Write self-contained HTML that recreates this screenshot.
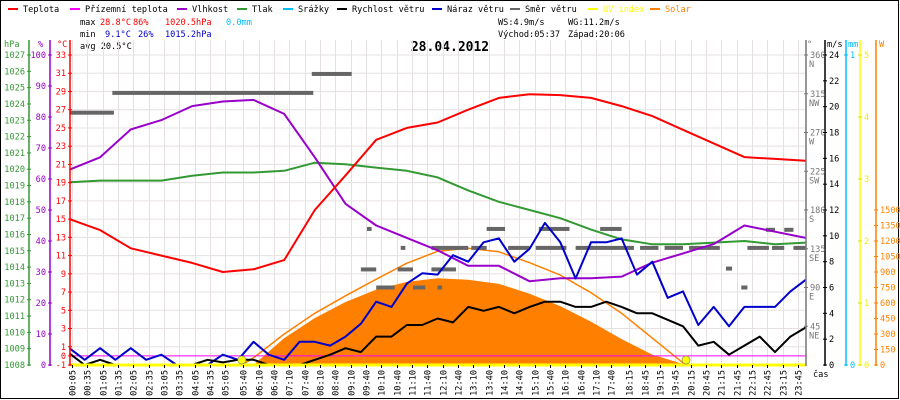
<!DOCTYPE html>
<html><head><meta charset="utf-8"><style>
html,body{margin:0;padding:0;background:#fff}
svg{display:block}
text{font-family:"DejaVu Sans Mono","Liberation Mono",monospace;font-size:8.6px}
</style></head><body>
<svg id="chart" width="900" height="400" viewBox="0 0 900 400" xmlns="http://www.w3.org/2000/svg">
<rect x="0.5" y="0.5" width="898" height="398" fill="#fff" stroke="#000"/>
<g id="legend"></g>
<g>
<text x="80" y="25">max</text><text x="100" y="25" fill="#f00">28.8°C</text><text x="133" y="25" fill="#f00">86%</text><text x="165" y="25" fill="#f00">1020.5hPa</text><text x="226" y="25" fill="#00bfff">0.0mm</text>
<text x="80" y="37">min</text><text x="105" y="37" fill="#00c">9.1°C</text><text x="138" y="37" fill="#00c">26%</text><text x="165" y="37" fill="#00c">1015.2hPa</text>
<text x="80" y="49">avg 20.5°C</text>
<text x="498" y="25">WS:4.9m/s</text><text x="568" y="25">WG:11.2m/s</text>
<text x="498" y="37">Východ:05:37</text><text x="568" y="37">Západ:20:06</text>
</g>
<text x="450" y="51" text-anchor="middle" style="font-size:13px;font-weight:bold">28.04.2012</text>
<g id="grid"></g>
<g id="marks"></g>
<g id="axes"></g>
</svg>
<script>
// ---- data ----
const hours = [0,1,2,3,4,5,6,7,8,9,10,11,12,13,14,15,16,17,18,19,20,21,22,23,24];
const temperature = [15,13.8,11.8,11,10.2,9.2,9.5,10.5,16,19.8,23.7,25,25.6,27,28.3,28.7,28.6,28.3,27.4,26.3,24.8,23.3,21.8,21.6,21.4];
const humidity = [63,67,76,79,83.5,85,85.5,81,67,52,45,41,37,32,32,27,28,28,28.5,33,36,39,45,43,41];
const pressure = [1019.2,1019.3,1019.3,1019.3,1019.6,1019.8,1019.8,1019.9,1020.4,1020.3,1020.1,1019.9,1019.5,1018.7,1018.0,1017.5,1017.0,1016.3,1015.7,1015.4,1015.4,1015.5,1015.6,1015.4,1015.5];
const solar = [0,0,0,0,0,0,0,260,455,610,730,805,840,825,785,690,570,420,250,100,10,0,0,0,0];
const clearTimes = [5.62,6,7,8,9,10,11,12,13,14,15,16,17,18,19,20,20.1];
const clearSolar = [0,70,300,500,670,830,985,1100,1130,1095,990,870,700,500,260,20,0];
const halfHours = [0,0.5,1,1.5,2,2.5,3,3.5,4,4.5,5,5.5,6,6.5,7,7.5,8,8.5,9,9.5,10,10.5,11,11.5,12,12.5,13,13.5,14,14.5,15,15.5,16,16.5,17,17.5,18,18.5,19,19.5,20,20.5,21,21.5,22,22.5,23,23.5,24];
const windSpeed = [0.9,0,0.4,0,0,0,0,0,0,0.4,0.2,0.4,0.4,0,0,0,0.4,0.8,1.3,1,2.2,2.2,3.1,3.1,3.6,3.3,4.5,4.2,4.5,4,4.5,4.9,4.9,4.5,4.5,4.9,4.5,4,4,3.5,3,1.5,1.8,0.8,1.5,2.2,1,2.2,2.9];
const windGust = [1.3,0.4,1.3,0.4,1.3,0.4,0.8,0,0,0,0.8,0.4,1.8,0.8,0.4,1.8,1.8,1.5,2.2,3.2,4.9,4.5,6.3,7.1,7,8.5,8,9.5,9.8,8,9,11,9.5,6.7,9.5,9.5,9.8,7,8,5.2,5.7,3.1,4.5,3,4.5,4.5,4.5,5.7,6.6];
const dirStart = [0,1.4,7.9,9.5,9.7,10,10.7,10.8,11.2,11.8,11.8,12,13.6,13.1,14.3,15.3,15.2,17.3,16.5,18.6,19.4,20.2,21.4,21.9,22.1,22.7,22.9,23.3,23.6];
const dirEnd   = [1.45,7.95,9.2,10.0,9.85,10.6,11.2,10.95,11.6,12.6,13,12.15,14.2,13.6,15,16.3,16.2,18,18.4,19.2,20.0,21.2,21.6,22.1,22.8,23,23.3,23.6,24];
const dirValue = [293,316,338,111,158,90,111,136,90,111,136,90,158,136,136,158,136,158,136,136,136,136,112,90,136,157,136,157,136];
const sunTimes = [5.62,20.1];
const timeLabels = ["00:05","00:35","01:05","01:35","02:05","02:35","03:05","03:35","04:05","04:35","05:05","05:40","06:10","06:40","07:10","07:40","08:10","08:40","09:10","09:40","10:10","10:40","11:10","11:40","12:10","12:40","13:10","13:40","14:10","14:40","15:10","15:40","16:10","16:40","17:10","17:40","18:15","18:45","19:15","19:45","20:15","20:45","21:15","21:45","22:15","22:45","23:15","23:45"];
const tempTicks = [33,31,29,27,25,23,21,19,17,15,13,11,9,7,5,3,1,0,-1];
const humTicks = [100,90,80,70,60,50,40,30,20,10,0];
const hpaTicks = [1027,1026,1025,1024,1023,1022,1021,1020,1019,1018,1017,1016,1015,1014,1013,1012,1011,1010,1009,1008];
const dirTicks = [360,315,270,225,180,135,90,45];
const dirNames = ["N","NW","W","SW","S","SE","E","NE"];
const msTicks = [24,22,20,18,16,14,12,10,8,6,4,2,0];
const uvTicks = [5,4,3,2,1,0];
const wTicks = [1500,1350,1200,1050,900,750,600,450,300,150,0];

// ---- scales ----
const X0=69.4, XS=30.68, YT=55, YB=365;
const x = t => X0 + XS*t;
const yTemp = v => YT + (33 - v)*(YB-YT)/34;
const yHum = v => YB - v*(YB-YT)/100;
const yHpa = v => YB - (v-1008)*(YB-YT)/19;
const yMs = v => YB - v*(YB-YT)/24;
const yW = v => YB - v*(YB-YT)/3000;
const yDir = v => YB - v*(YB-YT)/360;
const yUv = v => YB - v*(YB-YT)/5;
const NS="http://www.w3.org/2000/svg";
function mk(tag, attrs, parent){const e=document.createElementNS(NS,tag);for(const k in attrs)e.setAttribute(k,attrs[k]);parent.appendChild(e);return e;}
const grid=document.getElementById('grid'), marks=document.getElementById('marks'), axes=document.getElementById('axes'), legend=document.getElementById('legend');

// legend
const legItems=[["Teplota","#f00",8],["Přízemní teplota","#f0f",70],["Vlhkost","#90c",177],["Tlak","#393",237],["Srážky","#00bfff",283],["Rychlost větru","#000",337],["Náraz větru","#00c",432],["Směr větru","#666",510],["UV index","#ff0",588],["Solar","#ff8000",650]];
legItems.forEach(it=>{
  const g=mk('g',{},legend);
  
  
  mk('rect',{x:it[2],y:8,width:10,height:2,fill:it[1]},g);
  const t=mk('text',{x:it[2]+15,y:12,fill:(it[0]==="UV index"||it[0]==="Solar")?it[1]:"#000"},g);
  t.textContent=it[0];
});

// grid
tempTicks.filter(v=>v>=1&&v%2===1).forEach(v=>{
  const l=mk('line',{x1:70,x2:806,y1:yTemp(v),y2:yTemp(v),stroke:"#e6e0e0","stroke-width":1},grid);
  
  
});
timeLabels.forEach(s=>{
  const p=s.split(':'), t=+p[0]+ +p[1]/60, xx=Math.round(x(t))+0.5;
  const l=mk('line',{x1:xx,x2:xx,y1:40,y2:365,stroke:"#e6e0e0","stroke-width":1},grid);
  
  
  mk('line',{x1:xx,x2:xx,y1:365,y2:368,stroke:"#000"},axes);
  const tx=mk('text',{x:0,y:0,transform:`translate(${xx+3},370) rotate(-90)`,"text-anchor":"end"},axes);
  tx.textContent=s;
  
  
});

// solar area
let pts=[[x(hours[0]),YB]];
hours.forEach((h,i)=>pts.push([x(h),yW(solar[i])]));
pts.push([x(24),YB]);
const sa=mk('polygon',{points:pts.map(p=>p.join(',')).join(' '),fill:"#ff8000"},marks);


function line(xs,ys,fy,color,w,name){
  const d=xs.map((t,i)=>(i?'L':'M')+x(t).toFixed(1)+','+fy(ys[i]).toFixed(1)).join('');
  const p=mk('path',{d:d,fill:"none",stroke:color,"stroke-width":w,"stroke-linejoin":"round"},marks);
  
  
}
line(clearTimes,clearSolar,yW,"#ff8000",1.5,'solar-clear-sky-line');
const gl=mk('line',{x1:70,x2:806,y1:yTemp(0),y2:yTemp(0),stroke:"#f0f","stroke-width":1},marks);


dirStart.forEach((s,i)=>{
  const r=mk('rect',{x:x(s),y:yDir(dirValue[i])-2,width:Math.max(4,x(dirEnd[i])-x(s)),height:4,fill:"#666"},marks);
  
  
});
line(hours,pressure,yHpa,"#393",2,'pressure-line');
line(hours,humidity,yHum,"#90c",2,'humidity-line');
line(hours,temperature,yTemp,"#f00",2,'temperature-line');
line(halfHours,windGust,yMs,"#00c",2,'wind-gust-line');
line(halfHours,windSpeed,yMs,"#000",2,'wind-speed-line');
const uv=mk('line',{x1:70,x2:806,y1:YB,y2:YB,stroke:"#ff0","stroke-width":3},marks);


sunTimes.forEach(t=>{
  const c=mk('circle',{cx:x(t),cy:YB-5,r:4,fill:"#ff0",stroke:"#886",'stroke-width':0.7},marks);
  
  
});

// axes
function vaxis(ax,color,name){const l=mk('line',{x1:ax,x2:ax,y1:40,y2:366,stroke:color,"stroke-width":1.5},axes);}
function tick(ax,y,label,color,side,tc){
  mk('line',{x1:ax-2,x2:ax+2,y1:y,y2:y,stroke:color},axes);
  const t=mk('text',{x:side<0?ax-4:ax+4,y:y+3,fill:tc||color,"text-anchor":side<0?"end":"start"},axes);
  t.textContent=label;
}
vaxis(29,"#393",'pressure-axis'); vaxis(50,"#90c",'humidity-axis'); vaxis(70,"#f00",'temperature-axis');
hpaTicks.forEach(v=>tick(29,yHpa(v),v,"#393",-1));
humTicks.forEach(v=>tick(50,yHum(v),v,"#90c",-1));
tempTicks.forEach(v=>tick(70,yTemp(v),v,"#f00",-1));
[["hPa",4,"#393"],["%",38,"#90c"],["°C",57,"#f00"]].forEach(a=>{const t=mk('text',{x:a[1],y:47,fill:a[2]},axes);t.textContent=a[0];});
vaxis(806,"#777",'direction-axis'); vaxis(825,"#000",'wind-speed-axis'); vaxis(846,"#00bfff",'rain-axis'); vaxis(860,"#ff0",'uv-axis'); vaxis(876,"#ff8000",'solar-axis');
dirTicks.forEach((v,i)=>{tick(806,yDir(v),v,"#777",1);const t=mk('text',{x:809,y:yDir(v)+12,fill:"#777"},axes);t.textContent=dirNames[i];});
msTicks.forEach(v=>tick(825,yMs(v),v,"#000",1));
tick(846,YT,1,"#00bfff",1); tick(846,YB,0,"#00bfff",1);
uvTicks.forEach(v=>tick(860,yUv(v),v,"#dd0",1,"#ee0"));
wTicks.forEach(v=>tick(876,yW(v),v,"#ff8000",1));
[["°",807,"#777"],["m/s",827,"#000"],["mm",848,"#00bfff"],["W",879,"#ff8000"]].forEach(a=>{const t=mk('text',{x:a[1],y:47,fill:a[2]},axes);t.textContent=a[0];});
const cas=mk('text',{x:813,y:377},axes);cas.textContent="čas";
</script>
</body></html>
